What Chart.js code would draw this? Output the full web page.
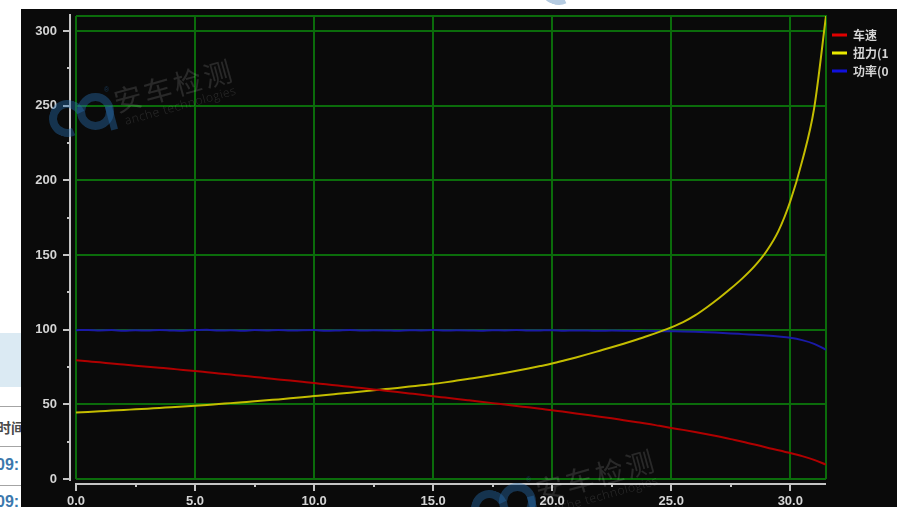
<!DOCTYPE html>
<html>
<head>
<meta charset="utf-8">
<script src="https://cdn.jsdelivr.net/npm/chart.js@4.4.1/dist/chart.umd.min.js"></script>
<style>
  html, body { margin: 0; padding: 0; background: #fff; }
  #page { position: relative; width: 897px; height: 507px; overflow: hidden; background: #fff;
          font-family: 'Noto Sans CJK SC', sans-serif; }
  .band { position: absolute; left: 0; top: 333px; width: 40px; height: 54px; background: #dbeaf3; }
  .rule { position: absolute; left: 0; width: 40px; height: 1px; background: #a4a4a4; }
  .cell { position: absolute; white-space: nowrap; font-weight: bold; line-height: 1; }
  #panel { position: absolute; left: 21px; top: 9px; width: 876px; height: 498px; background: #0a0a0a; }
  #panel canvas { position: absolute; left: 0; top: 0; }
  .wm { position: absolute; pointer-events: none; white-space: nowrap; line-height: 1; }
  .ring { position: absolute; border-radius: 50%; box-sizing: border-box; pointer-events: none; }
</style>
</head>
<body>
<div id="page">
  <div class="band"></div>
  <div class="rule" style="top:406px"></div>
  <div class="cell" style="left:-3px; top:420px; font-size:14px; color:#4a4a4a;">时间</div>
  <div class="rule" style="top:446px"></div>
  <div class="cell" style="left:-4px; top:457px; font-size:16px; color:#3c78ad; font-family:'Liberation Sans',Arial,sans-serif;">09:</div>
  <div class="rule" style="top:485px"></div>
  <div class="cell" style="left:-4px; top:494px; font-size:16px; color:#3c78ad; font-family:'Liberation Sans',Arial,sans-serif;">09:</div>

  <div id="panel"><canvas id="chart" width="876" height="498"></canvas></div>
  <div id="marks"></div>
</div>

<script>
// Test run: time (s) against vehicle speed, torque and power
const timeSec = [
  0, 0.5, 1, 1.5, 2, 2.5, 3, 3.5, 4, 4.5, 5, 5.5, 6, 6.5, 7, 7.5,
  8, 8.5, 9, 9.5, 10, 10.5, 11, 11.5, 12, 12.5, 13, 13.5, 14, 14.5, 15, 15.5,
  16, 16.5, 17, 17.5, 18, 18.5, 19, 19.5, 20, 20.5, 21, 21.5, 22, 22.5, 23, 23.5,
  24, 24.5, 25, 25.5, 26, 26.5, 27, 27.5, 28, 28.5, 29, 29.5, 30, 30.5, 31, 31.5
];
const speedVals = [
  79.5, 78.8, 78.1, 77.3, 76.6, 75.9, 75.2, 74.5, 73.8, 73.0, 72.3, 71.5, 70.7, 69.9, 69.1, 68.3,
  67.5, 66.7, 65.9, 65.1, 64.3, 63.4, 62.6, 61.7, 60.9, 60.0, 59.1, 58.2, 57.3, 56.4, 55.4, 54.5,
  53.6, 52.7, 51.8, 50.8, 49.9, 48.9, 48.0, 47.0, 46.1, 45.0, 43.9, 42.8, 41.7, 40.6, 39.4, 38.2,
  37.0, 35.6, 34.2, 32.9, 31.5, 30.0, 28.4, 26.7, 25.0, 23.1, 21.1, 19.3, 17.4, 15.3, 12.8, 9.6
];
const torqueVals = [
  44.5, 44.9, 45.3, 45.8, 46.2, 46.7, 47.1, 47.6, 48.0, 48.5, 49.0, 49.6, 50.2, 50.8, 51.4, 52.0,
  52.7, 53.3, 54.0, 54.8, 55.5, 56.2, 57.0, 57.8, 58.6, 59.4, 60.2, 61.0, 61.9, 62.7, 63.6, 64.7,
  65.9, 67.1, 68.3, 69.6, 71.0, 72.5, 74.0, 75.6, 77.3, 79.3, 81.4, 83.6, 85.9, 88.2, 90.6, 93.1,
  95.7, 98.5, 101.5, 105.0, 109.5, 115.0, 121.0, 127.5, 134.5, 142.5, 152.5, 166.0, 186.0, 213.0, 248.0, 310.0
];
const powerVals = [
  99.6, 99.8, 99.5, 99.7, 99.2, 99.6, 99.4, 99.8, 99.5, 99.3, 99.7, 99.9, 99.4, 99.6, 99.2, 99.7,
  99.5, 99.8, 99.4, 99.6, 99.7, 99.3, 99.5, 99.8, 99.4, 99.6, 99.5, 99.2, 99.6, 99.5, 99.7, 99.4,
  99.6, 99.5, 99.3, 99.6, 99.5, 99.7, 99.4, 99.5, 99.6, 99.3, 99.5, 99.4, 99.2, 99.4, 99.3, 99.1,
  99.2, 99.0, 98.9, 98.8, 98.6, 98.3, 97.9, 97.5, 97.0, 96.5, 96.0, 95.4, 94.6, 93.0, 90.5, 86.5
];
const seriesNames = ['车速', '扭力(1', '功率(0'];
const xTickValues = [0, 5, 10, 15, 20, 25, 30];
const yTickValues = [0, 50, 100, 150, 200, 250, 300];
const xRange = [0, 31.5];
const yRange = [0, 310];

// Target plot rectangle inside the canvas
const AREA = { left: 55, right: 805, top: 7, bottom: 470 };
const GRID = '#0b6c0b';
const AXIS = '#c4c4c4';
const LABEL = '#d4d4d4';
const NUM_FONT = "'Liberation Sans', Arial, sans-serif";
const CJK_FONT = "'Noto Sans CJK SC', sans-serif";

const toPoints = ys => timeSec.map((t, i) => ({ x: t, y: ys[i] }));
const midpoints = vals => vals.slice(1).map((v, i) => (v + vals[i]) / 2);

// Grey axis lines with major/minor ticks, set a few pixels off the plot frame
const frameAxes = {
  id: 'frameAxes',
  beforeDatasetsDraw(chart) {
    const { ctx, chartArea: a } = chart;
    ctx.save();
    ctx.strokeStyle = GRID;
    ctx.lineWidth = 2;
    ctx.beginPath();
    ctx.moveTo(a.left, a.top);
    ctx.lineTo(a.right, a.top);
    ctx.lineTo(a.right, a.bottom);
    ctx.stroke();
    ctx.restore();
  },
  afterDraw(chart) {
    const { ctx, chartArea: a, scales: { x, y } } = chart;
    const ax = a.left - 6;
    const ay = a.bottom + 5;
    ctx.save();
    ctx.strokeStyle = AXIS;
    ctx.lineWidth = 2;
    ctx.beginPath();
    ctx.moveTo(ax, a.top - 2);
    ctx.lineTo(ax, a.bottom + 2);
    yTickValues.forEach(v => {
      const p = Math.round(y.getPixelForValue(v));
      ctx.moveTo(ax, p); ctx.lineTo(ax - 7, p);
    });
    midpoints(yTickValues).forEach(v => {
      const p = Math.round(y.getPixelForValue(v));
      ctx.moveTo(ax, p); ctx.lineTo(ax - 3, p);
    });
    ctx.moveTo(a.left - 1, ay);
    ctx.lineTo(a.right, ay);
    xTickValues.forEach(v => {
      const p = Math.round(x.getPixelForValue(v));
      ctx.moveTo(p, ay); ctx.lineTo(p, ay + 7);
    });
    midpoints(xTickValues).forEach(v => {
      const p = Math.round(x.getPixelForValue(v));
      ctx.moveTo(p, ay); ctx.lineTo(p, ay + 3);
    });
    ctx.stroke();
    ctx.restore();
  }
};

function fixBox(size, key) {
  return scale => {
    scale[key] = size;
    scale.paddingTop = 0; scale.paddingBottom = 0;
    scale.paddingLeft = 0; scale.paddingRight = 0;
  };
}

const chart = new Chart(document.getElementById('chart'), {
  type: 'line',
  data: {
    datasets: [
      { label: seriesNames[0], data: toPoints(speedVals),  borderColor: '#b00000', backgroundColor: '#e00000' },
      { label: seriesNames[1], data: toPoints(torqueVals), borderColor: '#c4bd00', backgroundColor: '#eaea00' },
      { label: seriesNames[2], data: toPoints(powerVals),  borderColor: '#1a1aa6', backgroundColor: '#1010dd' }
    ]
  },
  options: {
    responsive: false,
    devicePixelRatio: 1,
    animation: false,
    layout: { padding: { left: 0, top: AREA.top, right: 0, bottom: 0 } },
    elements: {
      line: { borderWidth: 2, tension: 0, cubicInterpolationMode: 'monotone', fill: false },
      point: { radius: 0, hoverRadius: 0 }
    },
    scales: {
      x: {
        type: 'linear',
        min: xRange[0], max: xRange[1],
        afterBuildTicks: s => { s.ticks = xTickValues.map(v => ({ value: v })); },
        afterFit: fixBox(28, 'height'),
        grid: { color: GRID, lineWidth: 2, drawTicks: false },
        border: { display: false },
        ticks: {
          padding: 15, maxRotation: 0, autoSkip: false, color: LABEL,
          font: { family: NUM_FONT, size: 13, weight: 'bold' },
          callback: v => Number(v).toFixed(1)
        }
      },
      y: {
        type: 'linear',
        min: yRange[0], max: yRange[1],
        afterBuildTicks: s => { s.ticks = yTickValues.map(v => ({ value: v })); },
        afterFit: fixBox(AREA.left, 'width'),
        grid: { color: GRID, lineWidth: 2, drawTicks: false },
        border: { display: false },
        ticks: {
          padding: 19, autoSkip: false, color: LABEL,
          font: { family: NUM_FONT, size: 13, weight: 'bold' },
          callback: v => String(v)
        }
      }
    },
    plugins: {
      tooltip: { enabled: false },
      legend: {
        position: 'right',
        align: 'start',
        title: { display: true, text: '', padding: 0, font: { size: 7, lineHeight: 1 } },
        labels: {
          boxWidth: 15, boxHeight: 3, padding: 6, color: LABEL,
          font: { family: CJK_FONT, size: 12, weight: 'bold' },
          generateLabels(c) {
            const items = Chart.defaults.plugins.legend.labels.generateLabels(c);
            items.forEach(it => { it.lineWidth = 0; it.strokeStyle = 'rgba(0,0,0,0)'; });
            return items;
          }
        }
      }
    }
  },
  plugins: [frameAxes]
});

// Set the right padding so the plot frame ends where the legend column starts
chart.options.layout.padding.right += chart.chartArea.right - AREA.right;
chart.update('none');

// Faint company watermarks laid over the page
function watermark(dx, dy, ringColor, textColor, withText) {
  const host = document.getElementById('marks');
  const add = (html) => { host.insertAdjacentHTML('beforeend', html); };
  add(`<div class="ring" style="left:${49 + dx}px; top:${100 + dy}px; width:37px; height:37px;
        border:8px solid ${ringColor}; border-right-color:transparent; transform:rotate(20deg);"></div>`);
  add(`<div class="ring" style="left:${77 + dx}px; top:${93 + dy}px; width:37px; height:37px;
        border:8px solid ${ringColor};"></div>`);
  add(`<div class="wm" style="left:${108 + dx}px; top:${106 + dy}px; width:7px; height:24px;
        background:${ringColor}; transform:rotate(-15deg);"></div>`);
  if (!withText) return;
  add(`<div class="wm" style="left:${104 + dx}px; top:${86 + dy}px; font-size:7px; color:${ringColor};
        font-family:${NUM_FONT};">®</div>`);
  add(`<div class="wm" style="left:${114 + dx}px; top:${87 + dy}px; font-size:28px; letter-spacing:3px;
        color:${textColor}; font-family:${CJK_FONT}; transform-origin:0 50%; transform:rotate(-15.5deg);">安车检测</div>`);
  add(`<div class="wm" style="left:${125 + dx}px; top:${115 + dy}px; font-size:12px; letter-spacing:0.6px;
        color:${textColor}; font-family:'Open Sans',sans-serif; font-weight:300;
        transform-origin:0 50%; transform:rotate(-15.5deg);">anche technologies</div>`);
}
watermark(0, 0, 'rgba(40,110,175,0.42)', 'rgba(255,255,255,0.13)', true);
watermark(422, 390, 'rgba(40,110,175,0.42)', 'rgba(255,255,255,0.13)', true);
watermark(491, -132, 'rgba(120,160,200,0.55)', 'rgba(0,0,0,0)', false);
</script>
</body>
</html>
